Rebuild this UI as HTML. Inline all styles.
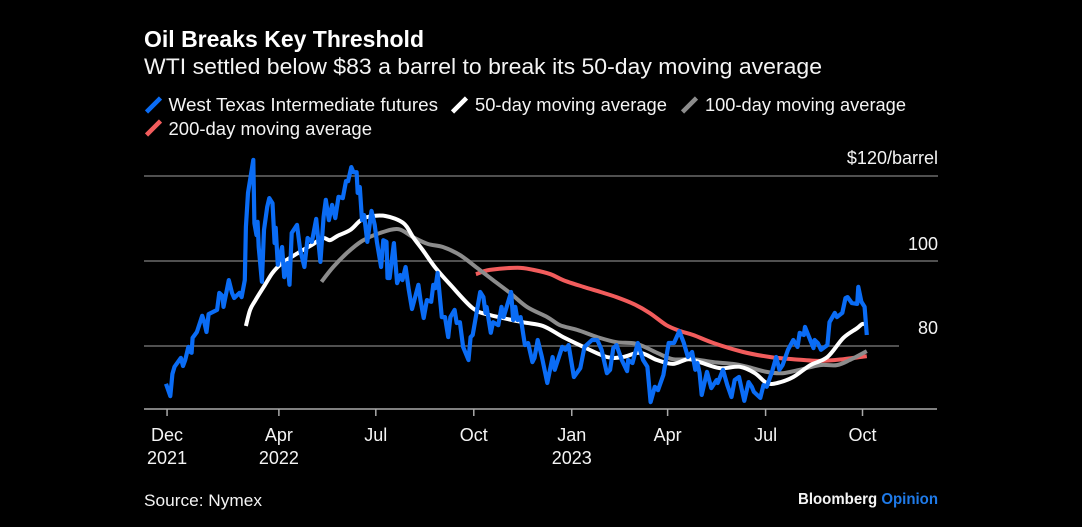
<!DOCTYPE html>
<html lang="en">
<head>
<meta charset="utf-8">
<title>Oil Breaks Key Threshold</title>
<style>
html,body{margin:0;padding:0;background:#000;}
#chart{display:block;width:1082px;height:527px;background:#000;}
text{font-family:"Liberation Sans",sans-serif;fill:#f4f4f4;}
</style>
</head>
<body>
<svg id="chart" xmlns="http://www.w3.org/2000/svg" width="1082" height="527" viewBox="0 0 1082 527">
  <text x="144" y="47" font-size="23" font-weight="700" style="fill:#fff" textLength="280" lengthAdjust="spacingAndGlyphs">Oil Breaks Key Threshold</text>
  <text x="144" y="74" font-size="22" textLength="678" lengthAdjust="spacingAndGlyphs">WTI settled below $83 a barrel to break its 50-day moving average</text>

  <g>
    <g>
      <line x1="146.500" y1="112" x2="160.500" y2="98" stroke="#0a6cf5" stroke-width="4.500"/>
      <text x="168.500" y="111" font-size="18" textLength="269.500" lengthAdjust="spacingAndGlyphs">West Texas Intermediate futures</text>
    </g>
    <g>
      <line x1="452.500" y1="112" x2="466.500" y2="98" stroke="#fff" stroke-width="4.500"/>
      <text x="475" y="111" font-size="18" textLength="192" lengthAdjust="spacingAndGlyphs">50-day moving average</text>
    </g>
    <g>
      <line x1="682.500" y1="112" x2="696.500" y2="98" stroke="#8c8c8c" stroke-width="4.500"/>
      <text x="705" y="111" font-size="18" textLength="201" lengthAdjust="spacingAndGlyphs">100-day moving average</text>
    </g>
    <g>
      <line x1="146.500" y1="135" x2="160.500" y2="121" stroke="#f25c5c" stroke-width="4.500"/>
      <text x="168.500" y="135" font-size="18" textLength="203.500" lengthAdjust="spacingAndGlyphs">200-day moving average</text>
    </g>
  </g>

  <g id="grid"></g>
  <g id="xaxis"></g>
  <g id="series"></g>

  <text x="144" y="506" font-size="17" textLength="118" lengthAdjust="spacingAndGlyphs">Source: Nymex</text>
  <text x="798" y="504" font-size="15.500" font-weight="700" textLength="140" lengthAdjust="spacingAndGlyphs">Bloomberg <tspan style="fill:#1f7ae8">Opinion</tspan></text>
</svg>

<script>
// Axis ticks and labels
const yTicks = [120, 100, 80];
const yTickLabels = ["$120/barrel", "100", "80"];
const tickDays = [1, 106, 197, 289, 381, 471, 563, 654];
const tickMonths = ["Dec", "Apr", "Jul", "Oct", "Jan", "Apr", "Jul", "Oct"];
const tickYears = ["2021", "2022", "", "", "2023", "", "", ""];

// Series: days since the start of the chart, and price in dollars per barrel
const wtiDays = [0,4,6,8,14,16,18,21,23,24,25,29,34,36,38,40,48,50,53,54,59,62,64,69,71,74,75,77,82,83,85,86,87,90,92,95,97,100,102,103,105,109,111,114,116,118,123,126,130,133,137,141,145,148,150,153,156,159,162,166,169,171,174,176,179,180,182,184,186,189,193,196,198,202,204,207,208,210,214,217,220,222,225,228,231,237,239,242,245,249,251,253,255,259,262,265,267,271,273,276,279,284,286,288,295,298,300,301,305,307,312,315,317,324,326,328,330,333,337,340,344,346,349,353,358,363,365,372,375,378,383,389,393,400,405,409,414,417,420,423,428,433,434,438,443,448,452,455,459,462,467,472,477,482,486,490,494,497,499,501,503,508,512,517,518,523,527,531,534,538,543,547,550,552,558,561,564,569,573,576,579,584,589,593,595,599,600,603,608,609,612,615,621,623,628,630,635,638,640,644,649,650,653,656,658];
const wtiPrices = [71.1,68.2,73.4,75.1,77.2,75.3,76.7,79.8,78.6,78.4,81.9,83.3,87.1,85.6,83.3,87.5,88.5,92.5,91.8,89.2,95.5,92.5,91.3,92.5,91.5,95.5,108.0,116.0,123.8,108.9,106.1,109.2,103.3,95.1,107.3,112.7,114.8,113.6,104.2,107.8,99.1,103.3,96.2,99.5,94.4,106.6,108.5,102.6,98.6,105.4,104.5,109.9,99.8,110.4,114.4,109.6,113.2,110.1,115.1,114.8,118.8,118.8,122.1,120.9,120.9,116.0,117.4,109.6,110.8,104.5,111.8,108.5,104.5,98.6,104.9,104.5,96.0,96.0,104.2,94.8,96.7,95.5,98.6,93.2,88.7,94.4,90.8,86.6,90.8,90.4,94.4,93.6,97.2,86.8,86.8,82.1,86.8,88.5,85.4,85.6,79.8,76.7,82.1,82.6,92.7,91.5,87.8,89.2,83.1,85.6,84.9,89.2,86.8,92.7,86.1,89.2,86.1,86.8,80.2,80.7,76.2,77.2,81.4,77.4,71.3,77.4,74.4,79.8,79.1,80.2,72.7,74.8,79.8,81.4,81.4,79.1,73.6,74.4,79.5,80.2,76.7,74.1,76.7,76.0,80.7,76.7,75.1,66.8,70.4,69.6,73.2,80.7,80.7,83.5,80.9,77.4,78.6,74.4,76.0,73.6,68.5,73.9,70.1,72.0,71.3,74.4,70.8,68.0,72.0,72.7,67.1,71.5,70.4,69.2,67.8,70.8,70.4,73.9,77.4,74.4,75.5,79.1,81.4,79.8,83.1,82.6,84.5,82.6,79.5,81.4,80.7,79.1,80.2,85.6,87.8,86.8,87.8,91.3,91.5,90.1,89.9,93.9,90.4,89.2,82.6];

const ma50Days = [75,79,84,93,100,109,124,137,147,154,161,173,182,190,206,223,232,241,253,267,288,304,335,354,373,392,414,429,445,461,476,490,501,520,539,553,564,574,589,605,621,636,649,654,658];
const ma50Values = [84.7,88.5,90.8,94.4,97.2,99.5,101.9,103.8,105.4,104.9,105.9,107.3,109.4,110.4,110.6,108.9,105.6,102.6,98.4,94.4,88.9,87.3,85.6,84.7,82.1,79.8,77.4,77.4,78.4,76.7,75.8,76.9,76.2,74.8,75.1,73.6,71.3,71.3,72.7,75.5,77.4,81.9,84.2,85.2,84.9];

const ma100Days = [146,157,170,184,201,218,232,246,260,276,292,307,323,339,358,370,386,405,423,442,461,476,495,514,532,546,564,579,595,614,630,642,658];
const ma100Values = [95.1,98.6,101.9,104.7,106.6,107.5,105.6,104.0,103.3,101.4,98.4,95.5,92.5,89.2,86.8,84.9,83.8,82.1,80.9,80.5,78.4,76.9,76.9,76.2,75.8,75.1,73.9,73.6,74.4,75.5,75.5,76.7,78.8];

const ma200Days = [291,304,330,345,361,373,392,408,423,439,454,470,483,495,514,542,567,589,614,636,658];
const ma200Values = [96.9,97.9,98.4,97.9,96.9,95.5,93.9,92.7,91.5,89.9,87.8,84.9,83.5,82.6,80.7,78.6,77.4,76.9,76.5,76.9,77.6];

const SVGNS = "http://www.w3.org/2000/svg";
const xScale = d => 166 + d * 1.065;
const yScale = v => 346 - (v - 80) * 4.25;
const AXIS_Y = 409;

function mk(tag, attrs, parent, text) {
  const el = document.createElementNS(SVGNS, tag);
  for (const k in attrs) el.setAttribute(k, attrs[k]);
  if (text !== undefined) el.textContent = text;
  parent.appendChild(el);
  return el;
}

const gridG = document.getElementById("grid");
const gridEnds = [938, 938, 899];
const labelOffsets = [-12, -11, -12];
yTicks.forEach((v, i) => {
  const y = yScale(v);
  const ln = mk("line", {x1: 144, x2: gridEnds[i], y1: y, y2: y, stroke: "#6a6a6a", "stroke-width": 1.5}, gridG);
  
  
  const t = mk("text", {x: 938, y: y + labelOffsets[i], "text-anchor": "end", "font-size": 18}, gridG, yTickLabels[i]);
  
  
});

const xG = document.getElementById("xaxis");
const axisLine = mk("line", {x1: 144, x2: 937, y1: AXIS_Y, y2: AXIS_Y, stroke: "#aaa", "stroke-width": 1.5}, xG);


tickDays.forEach((d, i) => {
  const x = xScale(d);
  const tk = mk("line", {x1: x, x2: x, y1: AXIS_Y, y2: AXIS_Y + 7, stroke: "#aaa", "stroke-width": 1.5}, xG);
  
  
  const m = mk("text", {x: x, y: 441, "text-anchor": "middle", "font-size": 18}, xG, tickMonths[i]);
  
  
  if (tickYears[i]) {
    const yr = mk("text", {x: x, y: 464, "text-anchor": "middle", "font-size": 18}, xG, tickYears[i]);
    
    
  }
});

function linePath(days, values) {
  return days.map((d, i) => (i ? "L" : "M") + xScale(d).toFixed(1) + " " + yScale(values[i]).toFixed(1)).join("");
}
// Catmull-Rom smoothing for the slow-moving averages
function smoothPath(days, values) {
  const pts = days.map((d, i) => [xScale(d), yScale(values[i])]);
  let s = "M" + pts[0][0].toFixed(1) + " " + pts[0][1].toFixed(1);
  for (let i = 0; i < pts.length - 1; i++) {
    const a = pts[Math.max(i - 1, 0)], b = pts[i], c = pts[i + 1], e = pts[Math.min(i + 2, pts.length - 1)];
    s += "C" + (b[0] + (c[0] - a[0]) / 6).toFixed(1) + " " + (b[1] + (c[1] - a[1]) / 6).toFixed(1) + " " +
         (c[0] - (e[0] - b[0]) / 6).toFixed(1) + " " + (c[1] - (e[1] - b[1]) / 6).toFixed(1) + " " +
         c[0].toFixed(1) + " " + c[1].toFixed(1);
  }
  return s;
}
const seriesG = document.getElementById("series");
function drawLine(pathData, color, width) {
  return mk("path", {d: pathData, fill: "none", stroke: color, "stroke-width": width, "stroke-linejoin": "round", "stroke-linecap": "butt"}, seriesG);
}
const lineRed = drawLine(smoothPath(ma200Days, ma200Values), "#f25c5c", 4);


const lineGray = drawLine(smoothPath(ma100Days, ma100Values), "#8c8c8c", 4);


const lineWhite = drawLine(smoothPath(ma50Days, ma50Values), "#ffffff", 4);


const lineBlue = drawLine(linePath(wtiDays, wtiPrices), "#0a6cf5", 4.2);


</script>
</body>
</html>
